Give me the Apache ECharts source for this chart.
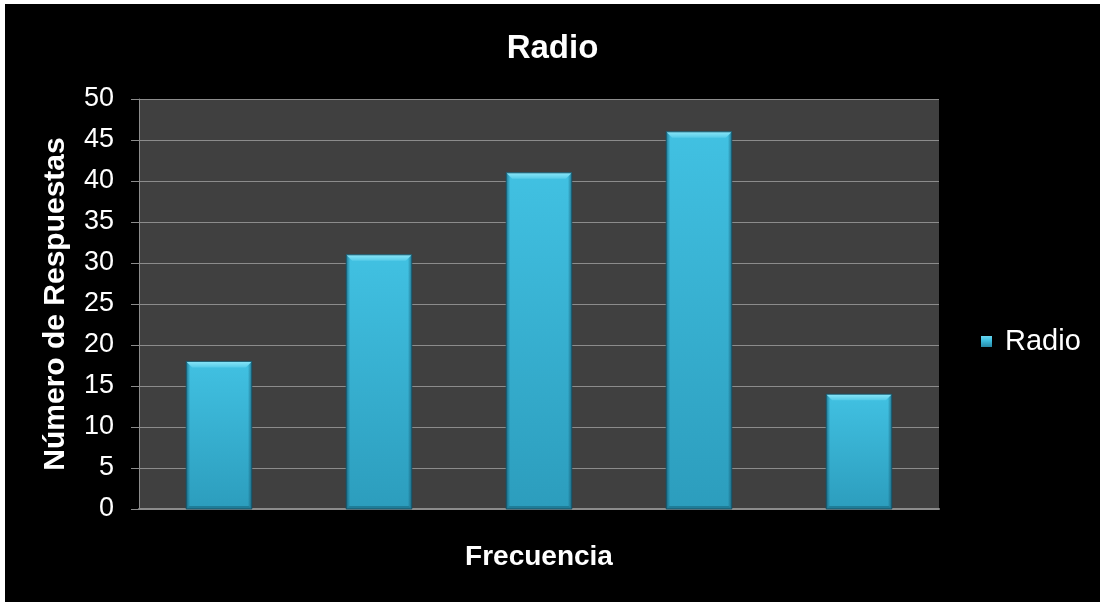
<!DOCTYPE html>
<html>
<head>
<meta charset="utf-8">
<script src="https://cdn.jsdelivr.net/npm/echarts@6/dist/echarts.min.js"></script>
<style>
  html, body { margin: 0; padding: 0; background: #ffffff; }
  #chart { position: absolute; left: 5px; top: 4px; width: 1095px; height: 598px; background: #000000; }
</style>
</head>
<body>
<div id="chart"></div>
<script>
// Chart data
const categories = ['1', '2', '3', '4', '5'];
const seriesName = 'Radio';
const values = [18, 31, 41, 46, 14];
const yTicks = { min: 0, max: 50, interval: 5 };

const FONT = '"Liberation Sans", Arial, sans-serif';
const BAR_RATIO = 0.41;   // bar width as share of the category band
const BEVEL = 6;          // bevel depth in pixels

const bodyFill = new echarts.graphic.LinearGradient(0, 0, 0, 1, [
  { offset: 0, color: '#41c1e2' },
  { offset: 1, color: '#2c9dbd' }
]);
const sideFill = new echarts.graphic.LinearGradient(0, 0, 1, 0, [
  { offset: 0, color: 'rgba(10,60,80,0.55)' },
  { offset: 0.06, color: 'rgba(10,60,80,0)' },
  { offset: 0.94, color: 'rgba(10,60,80,0)' },
  { offset: 1, color: 'rgba(10,60,80,0.55)' }
]);
const legendFill = new echarts.graphic.LinearGradient(0, 0, 0, 1, [
  { offset: 0, color: '#6ad6f0' },
  { offset: 0.4, color: '#3fbfe0' },
  { offset: 1, color: '#2688a6' }
]);

// Bevelled bar: body, lit top face, shaded bottom face, darkened sides
function renderBar(params, api) {
  const cat = api.value(0);
  const val = api.value(1);
  const top = api.coord([cat, val]);
  const base = api.coord([cat, 0]);
  const w = api.size([1, 0])[0] * BAR_RATIO;
  const x0 = top[0] - w / 2;
  const x1 = top[0] + w / 2;
  const y0 = top[1];
  const y1 = base[1];
  const b = Math.min(BEVEL, (y1 - y0) / 3);
  return {
    type: 'group',
    children: [
      { type: 'rect', shape: { x: x0, y: y0, width: w, height: y1 - y0 }, style: { fill: bodyFill } },
      { type: 'rect', shape: { x: x0, y: y0, width: w, height: y1 - y0 }, style: { fill: sideFill } },
      {
        type: 'polygon',
        shape: { points: [[x0, y0], [x1, y0], [x1 - b, y0 + b], [x0 + b, y0 + b]] },
        style: {
          fill: new echarts.graphic.LinearGradient(0, 0, 0, 1, [
            { offset: 0, color: '#8be6f8' },
            { offset: 1, color: '#55cbe8' }
          ])
        }
      },
      {
        type: 'polygon',
        shape: { points: [[x0, y1], [x1, y1], [x1 - 3, y1 - 3], [x0 + 3, y1 - 3]] },
        style: { fill: '#1f7d98' }
      },
      {
        type: 'rect',
        shape: { x: x0, y: y0, width: w, height: y1 - y0 },
        style: { fill: null, stroke: 'rgba(20,80,100,0.9)', lineWidth: 1 }
      }
    ]
  };
}

const chart = echarts.init(document.getElementById('chart'), null, { renderer: 'canvas' });
chart.setOption({
  backgroundColor: '#000000',
  animation: false,
  title: {
    text: 'Radio',
    left: 'center',
    top: 23,
    textStyle: { color: '#ffffff', fontFamily: FONT, fontWeight: 'bold', fontSize: 33 }
  },
  legend: {
    data: [seriesName],
    orient: 'vertical',
    left: 971,
    top: 318,
    icon: 'rect',
    itemWidth: 11,
    itemHeight: 11,
    itemGap: 4,
    textStyle: { color: '#ffffff', fontFamily: FONT, fontSize: 29, padding: [0, 0, 0, 8] }
  },
  grid: {
    left: 134,
    top: 95,
    width: 800,
    height: 410,
    show: true,
    backgroundColor: '#404040',
    borderWidth: 0
  },
  xAxis: {
    type: 'category',
    data: categories,
    name: 'Frecuencia',
    nameLocation: 'middle',
    nameGap: 34,
    nameTextStyle: { color: '#ffffff', fontFamily: FONT, fontWeight: 'bold', fontSize: 28 },
    axisLine: { show: true, lineStyle: { color: '#8c8c8c', width: 2 } },
    axisTick: { show: false },
    axisLabel: { show: false },
    splitLine: { show: false }
  },
  yAxis: {
    type: 'value',
    min: yTicks.min,
    max: yTicks.max,
    interval: yTicks.interval,
    name: 'Número de Respuestas',
    nameLocation: 'middle',
    nameGap: 68,
    nameTextStyle: { color: '#ffffff', fontFamily: FONT, fontWeight: 'bold', fontSize: 30 },
    axisLine: { show: true, lineStyle: { color: '#8c8c8c', width: 1 } },
    axisTick: { show: true, length: 8, lineStyle: { color: '#8c8c8c' } },
    axisLabel: { color: '#ffffff', fontFamily: FONT, fontSize: 27, margin: 25 },
    splitLine: { show: true, lineStyle: { color: '#8c8c8c', width: 1 } }
  },
  series: [{
    name: seriesName,
    type: 'custom',
    renderItem: renderBar,
    encode: { x: 0, y: 1 },
    itemStyle: { color: legendFill },
    data: values.map((v, i) => [i, v])
  }]
});
</script>
</body>
</html>
